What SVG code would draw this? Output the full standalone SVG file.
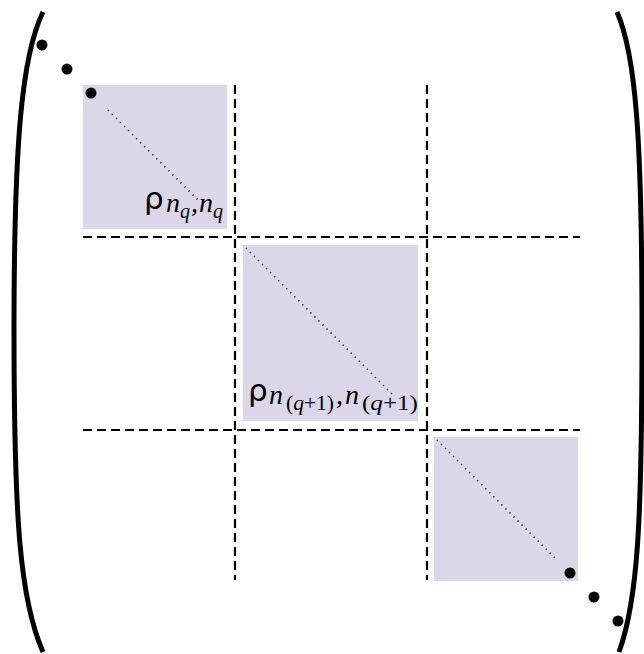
<svg xmlns="http://www.w3.org/2000/svg" width="644" height="654" viewBox="0 0 644 654">
<style>
.blk{fill:#dbd6e8;}
.dash{stroke:#000;stroke-width:2.2;stroke-dasharray:9 5;fill:none;}
.dot{stroke:#222;stroke-width:1.6;stroke-dasharray:1.2 4.5;fill:none;}
.br{stroke:#000;stroke-width:5;fill:none;stroke-linecap:butt;}
.rho{font-family:"DejaVu Sans",sans-serif;font-size:31px;fill:#000;}
.sub{font-family:"Liberation Serif",serif;font-style:italic;font-size:28px;fill:#000;}
.ss{font-family:"Liberation Serif",serif;font-size:20px;fill:#000;}
.ssi{font-style:italic;}
</style>
<rect width="644" height="654" fill="#fff"/>
<g id="block1">
<rect class="blk" x="83" y="85" width="144" height="144"/>
<line class="dot" x1="108" y1="110" x2="200" y2="202"/>
<circle cx="91" cy="93" r="5.5" fill="#000"/>
<text id="label1"><tspan class="rho" x="144" y="209">ρ</tspan><tspan class="sub" x="166" y="212">n</tspan><tspan class="ss ssi" x="180" y="218">q</tspan><tspan class="sub" x="191" y="212" font-style="normal">,</tspan><tspan class="sub" x="199" y="212">n</tspan><tspan class="ss ssi" x="213" y="218">q</tspan></text>
</g>
<g id="block2">
<rect class="blk" x="243" y="245" width="175" height="176"/>
<line class="dot" x1="246" y1="248" x2="394" y2="396"/>
<text id="label2"><tspan class="rho" x="248" y="401">ρ</tspan><tspan class="sub" x="269" y="404">n</tspan><tspan class="ss" x="286" y="410" textLength="48" lengthAdjust="spacingAndGlyphs">(<tspan class="ssi">q</tspan>+1)</tspan><tspan class="sub" x="336" y="404" font-style="normal">,</tspan><tspan class="sub" x="345" y="404">n</tspan><tspan class="ss" x="362" y="410" textLength="56" lengthAdjust="spacingAndGlyphs">(<tspan class="ssi">q</tspan>+1)</tspan></text>
</g>
<g id="block3">
<rect class="blk" x="434" y="437" width="144" height="144"/>
<line class="dot" x1="437" y1="440" x2="555" y2="558"/>
<circle cx="570" cy="573" r="5.5" fill="#000"/>
</g>
<g id="connectors">
<line class="dash" x1="235" y1="85" x2="235" y2="580"/>
<line class="dash" x1="427" y1="85" x2="427" y2="580"/>
<line class="dash" x1="83" y1="237" x2="580" y2="237"/>
<line class="dash" x1="83" y1="430" x2="580" y2="430"/>
</g>
<g id="bracket-left">
<path class="br" d="M43 12 C22 55 14 140 14 330 C14 520 20 600 43 652"/>
</g>
<g id="bracket-right">
<path class="br" d="M617 12 C636 55 642 140 642 330 C642 520 638 600 619 652"/>
</g>
<g id="dots">
<circle cx="42" cy="45" r="5.5" fill="#000"/>
<circle cx="67" cy="69" r="5.5" fill="#000"/>
<circle cx="594" cy="597" r="5.5" fill="#000"/>
<circle cx="618" cy="621" r="5.5" fill="#000"/>
</g>
</svg>
